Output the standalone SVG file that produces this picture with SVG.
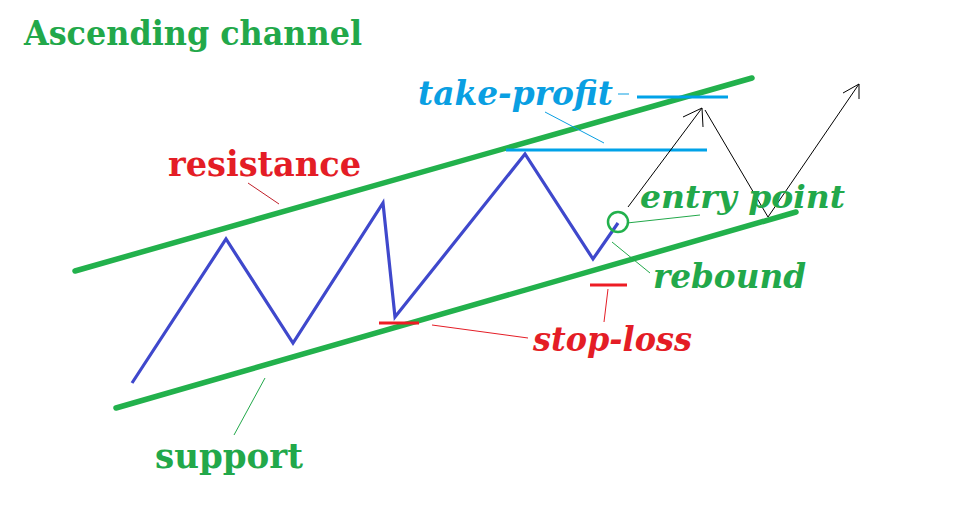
<svg xmlns="http://www.w3.org/2000/svg" width="973" height="514" viewBox="0 0 973 514">
<style>
.t{font-family:"DejaVu Serif","Liberation Serif",serif;font-weight:bold}
.i{font-style:italic}
.g{fill:#22A84A}.r{fill:#E41D26}.b{fill:#0A9FE2}
.ch{stroke:#22B14C;stroke-width:5.5;stroke-linecap:round;fill:none}
.zz{stroke:#3F48CC;stroke-width:3.2;fill:none;stroke-linejoin:miter}
.tp{stroke:#00A2E8;stroke-width:3}
.sl{stroke:#ED1C24;stroke-width:3}
.ld{stroke-width:1;fill:none}
.ar{stroke:#000;stroke-width:1;fill:none}
</style>
<rect width="973" height="514" fill="#fff"/>
<g id="title"><text class="t g" x="24" y="45" font-size="34" textLength="338" lengthAdjust="spacingAndGlyphs">Ascending channel</text></g>
<g id="resistance-line"><line class="ch" x1="75" y1="271" x2="752" y2="78"/></g>
<g id="support-line"><line class="ch" x1="116" y1="408" x2="796" y2="212"/></g>
<g id="price"><polyline class="zz" points="132,383 226,239 293,343 383,203 395,317 525,154 593,259 618,223"/></g>
<g id="take-profit-levels">
<line class="tp" x1="637" y1="97" x2="728" y2="97"/>
<line class="tp" x1="506" y1="150" x2="707" y2="150"/>
</g>
<g id="stop-loss-levels">
<line class="sl" x1="379" y1="323" x2="419" y2="323"/>
<line class="sl" x1="590" y1="285" x2="627" y2="285"/>
</g>
<g id="entry-circle"><circle cx="618" cy="222" r="10" fill="none" stroke="#22B14C" stroke-width="2.5"/></g>
<g id="forecast">
<polyline class="ar" points="628,207 702,108"/>
<polyline class="ar" points="683,117 702,108 703,127"/>
<polyline class="ar" points="705,110 768,217 859,84"/>
<polyline class="ar" points="843,93 859,84 859,99"/>
</g>
<g id="connectors">
<line class="ld" stroke="#0A9FE2" x1="618" y1="94" x2="629" y2="94"/>
<line class="ld" stroke="#0A9FE2" x1="545" y1="112" x2="604" y2="143"/>
<line class="ld" stroke="#C0202A" x1="248" y1="183" x2="279" y2="204"/>
<line class="ld" stroke="#22A84A" x1="265" y1="378" x2="234" y2="435"/>
<line class="ld" stroke="#22A84A" x1="627" y1="223" x2="700" y2="215"/>
<line class="ld" stroke="#22A84A" x1="612" y1="242" x2="650" y2="273"/>
<line class="ld" stroke="#E41D26" x1="432" y1="325" x2="528" y2="338"/>
<line class="ld" stroke="#E41D26" x1="608" y1="289" x2="604" y2="322"/>
</g>
<g id="label-resistance"><text class="t r" x="168" y="176" font-size="36" textLength="193" lengthAdjust="spacingAndGlyphs">resistance</text></g>
<g id="label-support"><text class="t g" x="155" y="468" font-size="36" textLength="148" lengthAdjust="spacingAndGlyphs">support</text></g>
<g id="label-take-profit"><text class="t i b" x="418" y="105" font-size="33" textLength="195" lengthAdjust="spacingAndGlyphs">take-profit</text></g>
<g id="label-entry"><text class="t i g" x="640" y="208" font-size="32" textLength="205" lengthAdjust="spacingAndGlyphs">entry point</text></g>
<g id="label-rebound"><text class="t i g" x="653" y="288" font-size="33" textLength="153" lengthAdjust="spacingAndGlyphs">rebound</text></g>
<g id="label-stop-loss"><text class="t i r" x="533" y="351" font-size="33" textLength="159" lengthAdjust="spacingAndGlyphs">stop-loss</text></g>
</svg>
